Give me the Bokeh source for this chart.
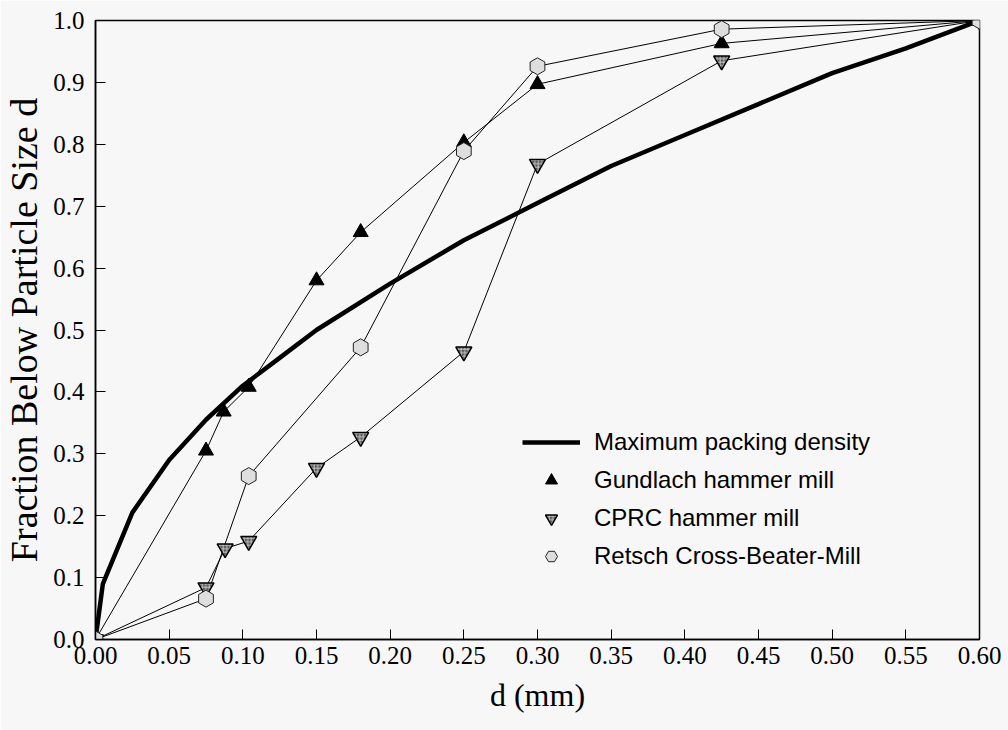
from bokeh.plotting import figure
from bokeh.models import Legend, LegendItem, Range1d, FixedTicker
from bokeh.embed import file_html
from bokeh.resources import INLINE

# ---- data ----
max_d = [0.0, 0.005, 0.025, 0.05, 0.075, 0.10, 0.125, 0.15, 0.20, 0.25, 0.30, 0.35, 0.40, 0.45, 0.50, 0.55, 0.60]
max_f = [0.0, 0.09, 0.205, 0.29, 0.355, 0.41, 0.455, 0.50, 0.575, 0.645, 0.705, 0.765, 0.815, 0.865, 0.915, 0.955, 1.0]

gund_d = [0.0, 0.075, 0.087, 0.104, 0.15, 0.18, 0.25, 0.30, 0.425, 0.60]
gund_f = [0.0, 0.305, 0.368, 0.408, 0.580, 0.658, 0.803, 0.897, 0.963, 1.0]

cprc_d = [0.0, 0.075, 0.088, 0.104, 0.15, 0.18, 0.25, 0.30, 0.425, 0.60]
cprc_f = [0.0, 0.084, 0.147, 0.159, 0.277, 0.327, 0.465, 0.768, 0.935, 1.0]

rets_d = [0.0, 0.075, 0.104, 0.18, 0.25, 0.30, 0.425, 0.60]
rets_f = [0.0, 0.066, 0.264, 0.472, 0.789, 0.926, 0.986, 1.0]

x_ticks = [0.0, 0.05, 0.10, 0.15, 0.20, 0.25, 0.30, 0.35, 0.40, 0.45, 0.50, 0.55, 0.60]
y_ticks = [0.0, 0.1, 0.2, 0.3, 0.4, 0.5, 0.6, 0.7, 0.8, 0.9, 1.0]

BG = "#f7f7f7"
SERIF = "Liberation Serif"
SANS = "Liberation Sans"

p = figure(width=1008, height=730, output_backend="svg", toolbar_location=None,
           x_range=Range1d(0, 0.6), y_range=Range1d(0, 1.0),
           min_border_left=95, min_border_right=29, min_border_top=20, min_border_bottom=91,
           background_fill_color=BG, border_fill_color=BG)
p.grid.visible = False
p.outline_line_color = "black"
p.outline_line_width = 1.5

for ax in (p.xaxis[0], p.yaxis[0]):
    ax.axis_line_color = "black"
    ax.axis_line_width = 1.5
    ax.major_tick_in = 10
    ax.major_tick_out = 0
    ax.minor_tick_in = 0
    ax.minor_tick_out = 0
    ax.major_label_text_font = SERIF
    ax.major_label_text_font_size = "25px"
    ax.major_label_text_color = "black"
    ax.axis_label_text_font = SERIF
    ax.axis_label_text_font_style = "normal"
    ax.axis_label_text_color = "black"

p.xaxis.ticker = FixedTicker(ticks=x_ticks)
p.yaxis.ticker = FixedTicker(ticks=y_ticks)
p.xaxis.major_label_overrides = {t: f"{t:.2f}" for t in x_ticks}
p.yaxis.major_label_overrides = {t: f"{t:.1f}" for t in y_ticks}
p.xaxis.major_label_standoff = 7
p.yaxis.major_label_standoff = 11
p.xaxis.axis_label = "d (mm)"
p.yaxis.axis_label = "Fraction Below Particle Size d"
p.xaxis.axis_label_text_font_size = "32px"
p.yaxis.axis_label_text_font_size = "38px"
p.xaxis.axis_label_standoff = 10
p.yaxis.axis_label_standoff = 5

# series lines
p.line(gund_d, gund_f, line_color="black", line_width=1)
p.line(cprc_d, cprc_f, line_color="black", line_width=1)
p.line(rets_d, rets_f, line_color="black", line_width=1)
r_max = p.line(max_d, max_f, line_color="black", line_width=4.5)

# markers
r_g = p.scatter(gund_d, gund_f, marker="triangle", size=15, fill_color="black", line_color="black")
r_c = p.scatter(cprc_d, cprc_f, marker="inverted_triangle", size=16, fill_color="#5a5a5a",
                line_color="black", line_width=1.5, hatch_pattern="+", hatch_scale=3.5,
                hatch_color="#d8d8d8", hatch_weight=0.8)
r_r = p.scatter(rets_d, rets_f, marker="hex", size=17, angle=0.5236, fill_color="#dedede",
                line_color="#222222", line_width=1)

legend = Legend(items=[
    LegendItem(label="Maximum packing density", renderers=[r_max]),
    LegendItem(label="Gundlach hammer mill", renderers=[r_g]),
    LegendItem(label="CPRC hammer mill", renderers=[r_c]),
    LegendItem(label="Retsch Cross-Beater-Mill", renderers=[r_r]),
], location=(427, 68))
legend.border_line_color = None
legend.background_fill_alpha = 0
legend.padding = 0
legend.margin = 0
legend.spacing = 8
legend.glyph_width = 58
legend.glyph_height = 30
legend.label_height = 30
legend.label_standoff = 14
legend.label_text_font = SANS
legend.label_text_font_size = "24px"
legend.label_text_color = "black"
p.add_layout(legend, "center")

open("out.html", "w").write(file_html(p, INLINE))
